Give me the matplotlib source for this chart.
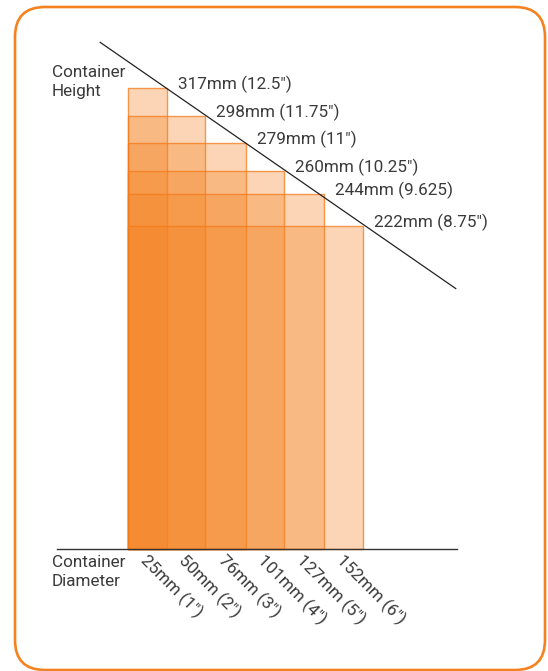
import numpy as np
import matplotlib
matplotlib.use("Agg")
import matplotlib.pyplot as plt
from matplotlib.patches import Rectangle, FancyBboxPatch
from matplotlib.colors import to_rgba

# container sizes (mm) and labels
diameters = [25, 50, 76, 101, 127, 152]
heights = [317, 298, 279, 260, 244, 222]
height_labels = ['317mm (12.5\u2033)', '298mm (11.75\u2033)', '279mm (11\u2033)',
                 '260mm (10.25\u2033)', '244mm (9.625)', '222mm (8.75\u2033)']
diameter_labels = ['25mm (1\u2033)', '50mm (2\u2033)', '76mm (3\u2033)',
                   '101mm (4\u2033)', '127mm (5\u2033)', '152mm (6\u2033)']

orange = '#F58220'
textcol = '#3a3a3a'
plt.rcParams['font.family'] = ['Roboto', 'DejaVu Sans']

W, H = 548, 671
fig = plt.figure(figsize=(W / 100, H / 100), dpi=100)

# axes fills the figure, scaled so that the chart lands where it should
px_x = 235 / 152.0          # pixels per mm horizontally
px_y = (549 - 88) / 317.0   # pixels per mm vertically
x0_px, y0_px = 128, 549
ax = fig.add_axes([0, 0, 1, 1])
ax.set_xlim(-x0_px / px_x, (W - x0_px) / px_x)
ax.set_ylim(-(H - y0_px) / px_y, y0_px / px_y)
ax.axis('off')

# rounded frame
frame = FancyBboxPatch((0.15, 0.01), 5.30, 6.63,
                       boxstyle='round,pad=0,rounding_size=0.3',
                       transform=fig.dpi_scale_trans, fill=False,
                       edgecolor=orange, linewidth=1.9)
fig.patches.append(frame)

# overlapping translucent boxes
for d, h in zip(diameters, heights):
    ax.add_patch(Rectangle((0, 0), d, h,
                           facecolor=to_rgba(orange, 0.33),
                           edgecolor=to_rgba('#F47A1A', 0.75),
                           linewidth=1.0))

# diagonal through the corners
k, b = np.polyfit(diameters, heights, 1)
xs = np.array([-18, 212])
ax.plot(xs, k * xs + b, color='#222222', linewidth=0.9)

# baseline
ax.plot([-46, 213], [0, 0], color='#333333', linewidth=1.0)

fs = 12.3
for d, h, lab in zip(diameters, heights, height_labels):
    ax.annotate(lab, (d, h), xytext=(8, 2.5), textcoords='offset points',
                ha='left', va='center', fontsize=fs, color=textcol)

prev = [0] + diameters[:-1]
for p, d, lab in zip(prev, diameters, diameter_labels):
    ax.annotate(lab, ((p + d) / 2, 0), xytext=(1, -2), textcoords='offset points',
                ha='left', va='top', rotation=-45, rotation_mode='anchor',
                fontsize=fs, color=textcol)

fig.text(52 / W, 1 - 65 / H, 'Container\nHeight', ha='left', va='top',
         fontsize=fs, color=textcol, linespacing=1.35)
fig.text(52 / W, 1 - 555 / H, 'Container\nDiameter', ha='left', va='top',
         fontsize=fs, color=textcol, linespacing=1.35)

fig.savefig('out.png', dpi=100, facecolor='white')
